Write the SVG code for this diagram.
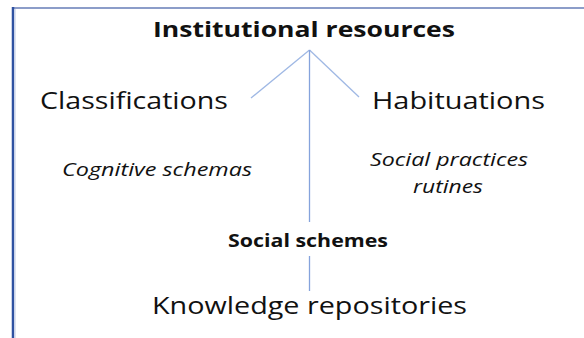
<svg xmlns="http://www.w3.org/2000/svg" width="584" height="338" viewBox="0 0 584 338">
  <style>
    text { font-family: "Open Sans", "Noto Sans", "DejaVu Sans", sans-serif; fill: #111; }
    .bold { font-weight: bold; }
    .it { font-style: italic; }
    .link { stroke: #9fb8e4; stroke-width: 1.3; fill: none; }
    .stem { stroke: #85a3dc; stroke-width: 1.3; fill: none; }
  </style>
  <rect width="584" height="338" fill="#ffffff"/>
  <!-- frame edges -->
  <line x1="12" y1="8" x2="584" y2="8" stroke="#8c9dc9" stroke-width="2"/>
  <line x1="13" y1="7" x2="13" y2="338" stroke="#2f52a2" stroke-width="2.5"/>
  <line x1="15.5" y1="9" x2="15.5" y2="338" stroke="#dde3f2" stroke-width="1"/>

  <g id="connectors">
    <line class="link" x1="309.5" y1="50" x2="251" y2="98"/>
    <line class="link" x1="309.5" y1="50" x2="359" y2="97"/>
    <line class="stem" x1="309.5" y1="50" x2="309.5" y2="222"/>
    <line class="stem" x1="309.5" y1="256" x2="309.5" y2="291"/>
  </g>

  <g id="institutional-resources">
    <text class="bold" x="153" y="37" font-size="21" textLength="302" lengthAdjust="spacingAndGlyphs">Institutional resources</text>
  </g>
  <g id="classifications">
    <text x="40" y="109" font-size="24" textLength="188" lengthAdjust="spacingAndGlyphs">Classifications</text>
  </g>
  <g id="habituations">
    <text x="372" y="109" font-size="24" textLength="173" lengthAdjust="spacingAndGlyphs">Habituations</text>
  </g>
  <g id="cognitive-schemas">
    <text class="it" x="62" y="176" font-size="18" textLength="190" lengthAdjust="spacingAndGlyphs">Cognitive schemas</text>
  </g>
  <g id="social-practices">
    <text class="it" x="370" y="166" font-size="18" textLength="158" lengthAdjust="spacingAndGlyphs">Social practices</text>
    <text class="it" x="413" y="193" font-size="18" textLength="70" lengthAdjust="spacingAndGlyphs">rutines</text>
  </g>
  <g id="social-schemes">
    <text class="bold" x="228" y="247" font-size="17" textLength="160" lengthAdjust="spacingAndGlyphs">Social schemes</text>
  </g>
  <g id="knowledge-repositories">
    <text x="152" y="314" font-size="24" textLength="315" lengthAdjust="spacingAndGlyphs">Knowledge repositories</text>
  </g>
</svg>
